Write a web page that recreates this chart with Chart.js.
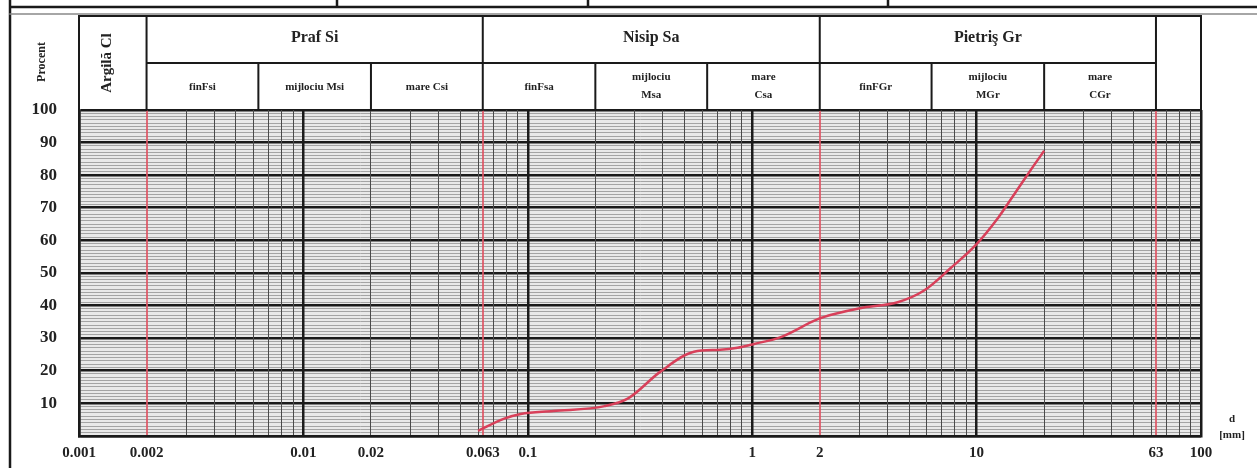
<!DOCTYPE html>
<html>
<head>
<meta charset="utf-8">
<script src="https://cdn.jsdelivr.net/npm/chart.js@4"></script>
<style>
  html, body { margin: 0; padding: 0; background: #fff; }
  #wrap { width: 1257px; height: 468px; }
</style>
</head>
<body>
<div id="wrap"><canvas id="granulo"></canvas></div>
<script>
// curba granulometrica (d in mm, procent trecut)
const sieveSizes = [0.06, 0.078, 0.093, 0.13, 0.22, 0.28, 0.39, 0.55, 0.72, 0.86, 1.02, 1.34, 1.96, 2.3, 3.14, 4.45, 5.81, 7.67, 9.9, 12.5, 15, 18, 20];
const passing    = [1.5, 5.2, 6.7, 7.6, 9.1, 11.5, 19.7, 25.8, 26.4, 27.0, 28.2, 30.3, 35.8, 37.3, 39.4, 41, 44.5, 51.5, 58.5, 67, 75, 83, 87.5];

// axa x
const xTickValues = [0.001, 0.002, 0.01, 0.02, 0.063, 0.1, 1, 2, 10, 63, 100];
const xTickLabels = ['0.001', '0.002', '0.01', '0.02', '0.063', '0.1', '1', '2', '10', '63', '100'];
const redLines = [0.002, 0.063, 2, 63];

// capul de tabel
const groupNames = ['Praf Si', 'Nisip Sa', 'Pietriş Gr'];
const groupEdges = [0.002, 0.063, 2, 63];
const subNames = ['finFsi', 'mijlociu Msi', 'mare Csi', 'finFsa', 'mijlociu\nMsa', 'mare\nCsa', 'finFGr', 'mijlociu\nMGr', 'mare\nCGr'];
const subEdges = [0.002, 0.0063, 0.02, 0.063, 0.2, 0.63, 2, 6.3, 20, 63];

const SERIF = '"Liberation Serif", "DejaVu Serif", serif';

function near(a, b) { return Math.abs(a - b) / b < 1e-6; }
function isDecade(v) { const lg = Math.log10(v); return Math.abs(lg - Math.round(lg)) < 1e-6; }

// fundal + ramă + cap de tabel
const tablePlugin = {
  id: 'tablePlugin',
  beforeDraw(chart) {
    const ctx = chart.ctx, a = chart.chartArea;
    ctx.save();
    ctx.fillStyle = '#fff';
    ctx.fillRect(0, 0, chart.width, chart.height);
    ctx.fillStyle = '#e9e9e9';
    ctx.fillRect(a.left, a.top, a.right - a.left, a.bottom - a.top);
    ctx.restore();
  },
  afterDraw(chart) {
    const ctx = chart.ctx, a = chart.chartArea, x = chart.scales.x;
    const top = 16, mid = 63, bot = a.top;
    ctx.save();
    ctx.strokeStyle = '#1a1a1a';
    ctx.lineCap = 'square';

    // rama de sus si stanga
    ctx.lineWidth = 2.5;
    ctx.beginPath();
    ctx.moveTo(10, 7); ctx.lineTo(chart.width, 7);
    ctx.moveTo(10, 0); ctx.lineTo(10, chart.height);
    [337, 588, 888].forEach(px => { ctx.moveTo(px, 0); ctx.lineTo(px, 7); });
    ctx.stroke();
    ctx.strokeStyle = '#888';
    ctx.lineWidth = 1.5;
    ctx.beginPath();
    ctx.moveTo(10, 14); ctx.lineTo(chart.width, 14);
    ctx.stroke();

    // tabel
    ctx.strokeStyle = '#1a1a1a';
    ctx.lineWidth = 2;
    ctx.beginPath();
    ctx.moveTo(a.left, bot); ctx.lineTo(a.left, top); ctx.lineTo(a.right, top); ctx.lineTo(a.right, bot);
    groupEdges.forEach(v => { const px = x.getPixelForValue(v); ctx.moveTo(px, top); ctx.lineTo(px, bot); });
    const g0 = x.getPixelForValue(groupEdges[0]), g1 = x.getPixelForValue(groupEdges[groupEdges.length - 1]);
    ctx.moveTo(g0, mid); ctx.lineTo(g1, mid);
    subEdges.forEach(v => { const px = x.getPixelForValue(v); ctx.moveTo(px, mid); ctx.lineTo(px, bot); });
    ctx.stroke();

    ctx.fillStyle = '#222';
    ctx.textAlign = 'center';
    ctx.textBaseline = 'middle';
    ctx.font = 'bold 16px ' + SERIF;
    groupNames.forEach((n, i) => {
      const c = (x.getPixelForValue(groupEdges[i]) + x.getPixelForValue(groupEdges[i + 1])) / 2;
      ctx.fillText(n, c, 38);
    });
    ctx.font = 'bold 11px ' + SERIF;
    subNames.forEach((n, i) => {
      const c = (x.getPixelForValue(subEdges[i]) + x.getPixelForValue(subEdges[i + 1])) / 2;
      const lines = n.split('\n');
      if (lines.length === 1) ctx.fillText(n, c, 87);
      else { ctx.fillText(lines[0], c, 77); ctx.fillText(lines[1], c, 95); }
    });

    // texte rotite
    ctx.save();
    ctx.translate(107, 63);
    ctx.rotate(-Math.PI / 2);
    ctx.font = 'bold 15px ' + SERIF;
    ctx.fillText('Argilă Cl', 0, 0);
    ctx.restore();
    ctx.save();
    ctx.translate(42, 62);
    ctx.rotate(-Math.PI / 2);
    ctx.font = 'bold 12px ' + SERIF;
    ctx.fillText('Procent', 0, 0);
    ctx.restore();

    ctx.font = 'bold 11px ' + SERIF;
    ctx.fillText('d', 1232, 419);
    ctx.fillText('[mm]', 1232, 435);
    ctx.restore();
  }
};

const ctx = document.getElementById('granulo').getContext('2d');
new Chart(ctx, {
  type: 'line',
  data: {
    datasets: [{
      data: sieveSizes.map((d, i) => ({ x: d, y: passing[i] })),
      borderColor: '#d8405a',
      borderWidth: 2.5,
      pointRadius: 0,
      tension: 0.4,
      cubicInterpolationMode: 'monotone',
      fill: false
    }]
  },
  options: {
    responsive: true,
    maintainAspectRatio: false,
    animation: false,
    layout: { padding: { left: 10, top: 110, right: 56, bottom: 0 } },
    plugins: { legend: { display: false }, tooltip: { enabled: false } },
    scales: {
      x: {
        type: 'logarithmic',
        min: 0.001,
        max: 100,
        afterBuildTicks(scale) {
          const t = [];
          for (let e = -3; e < 2; e++) {
            for (let k = 1; k < 10; k++) t.push(+(k * Math.pow(10, e)).toPrecision(3));
          }
          t.push(100);
          redLines.forEach(v => { if (!t.some(u => near(u, v))) t.push(v); });
          t.sort((p, q) => p - q);
          scale.ticks = t.map(v => ({ value: v }));
        },
        afterFit(scale) { scale.height = 28; },
        border: { display: true, color: '#1a1a1a', width: 2.5 },
        grid: {
          z: -1,
          drawTicks: false,
          color(c) {
            const v = c.tick.value;
            if (redLines.some(r => near(v, r))) return 'rgba(222,85,100,0.85)';
            return isDecade(v) ? '#1a1a1a' : '#4a4a4a';
          },
          lineWidth(c) {
            const v = c.tick.value;
            if (redLines.some(r => near(v, r))) return 2;
            return isDecade(v) ? 2.5 : 1;
          }
        },
        ticks: {
          autoSkip: false,
          maxRotation: 0,
          padding: 8,
          color: '#222',
          font: { family: SERIF, size: 15, weight: 'bold' },
          callback(value) {
            const i = xTickValues.findIndex(v => near(value, v));
            return i >= 0 ? xTickLabels[i] : '';
          }
        }
      },
      y: {
        type: 'linear',
        min: 0,
        max: 100,
        afterBuildTicks(scale) {
          const t = [];
          for (let v = 0; v <= 100; v++) t.push({ value: v });
          scale.ticks = t;
        },
        afterFit(scale) { scale.width = 69; },
        border: { display: true, color: '#1a1a1a', width: 2.5 },
        grid: {
          z: -2,
          drawTicks: false,
          color(c) { return c.tick.value % 10 === 0 ? '#1a1a1a' : '#a4a4a4'; },
          lineWidth(c) { return c.tick.value % 10 === 0 ? 2.5 : 1; }
        },
        ticks: {
          autoSkip: false,
          padding: 22,
          color: '#222',
          font: { family: SERIF, size: 17, weight: 'bold' },
          callback(value) { return (value % 10 === 0 && value > 0) ? String(value) : ''; }
        }
      }
    }
  },
  plugins: [tablePlugin]
});
</script>
</body>
</html>
